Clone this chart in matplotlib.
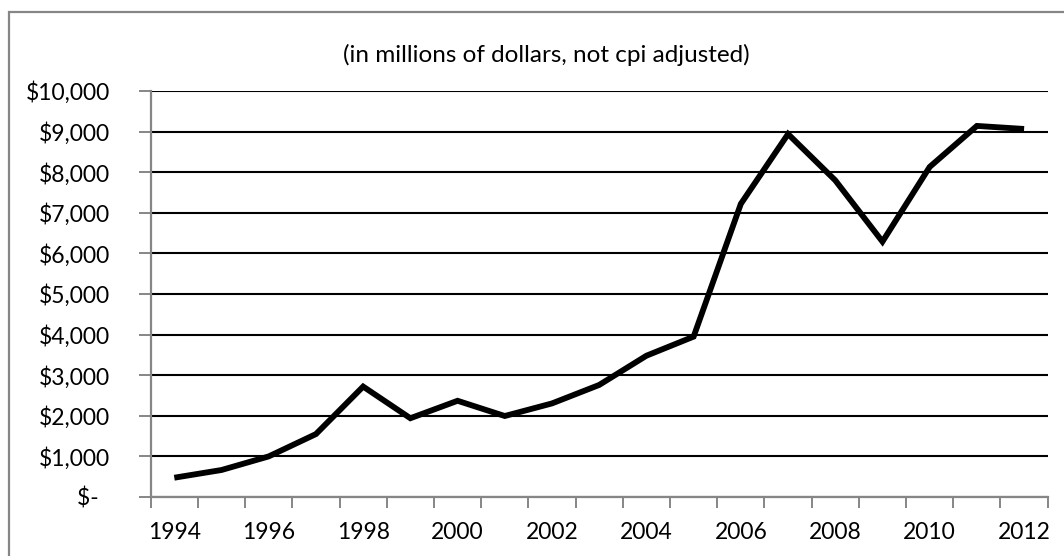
import matplotlib.pyplot as plt
from matplotlib.patches import Rectangle
from matplotlib.ticker import FixedLocator, FuncFormatter

plt.rcParams['font.family'] = ['Lato', 'DejaVu Sans']

# yearly totals, millions of dollars
years = list(range(1994, 2013))
values = [475, 665, 1000, 1550, 2720, 1940, 2370, 1995, 2305, 2760,
          3480, 3950, 7220, 8940, 7800, 6290, 8130, 9140, 9065]
y_ticks = list(range(0, 10001, 1000))

gray = '#868686'

fig = plt.figure(figsize=(10.64, 5.56), dpi=100)
ax = fig.add_axes([150.7 / 1064, 1 - 497 / 556, 897 / 1064, 406 / 556])

# chart area border
fig.patches.append(Rectangle((9 / 1064, -0.1), 1.2, 1 - 12 / 556 + 0.1,
                             transform=fig.transFigure, fill=False,
                             edgecolor=gray, linewidth=1.6))

xs = list(range(len(years)))
ax.plot(xs, values, color='black', linewidth=4.2, solid_joinstyle='miter',
        solid_capstyle='butt', zorder=3)

ax.set_xlim(-0.5, len(years) - 0.5)
ax.set_ylim(0, 10000)

# category axis: tick marks between years, labels every other year
ax.xaxis.set_major_locator(FixedLocator([i - 0.5 for i in range(len(years) + 1)]))
ax.xaxis.set_major_formatter(FuncFormatter(lambda v, p: ''))
ax.xaxis.set_minor_locator(FixedLocator(xs[::2]))
ax.xaxis.set_minor_formatter(FuncFormatter(lambda v, p: str(years[int(round(v))])))
ax.tick_params(axis='x', which='major', length=8, width=1.4, color=gray, direction='out')
ax.tick_params(axis='x', which='minor', length=0, pad=18, labelsize=16.5)


def money(v, p):
    if v == 0:
        return '$-  '
    return '${:,.0f}'.format(v)


ax.set_yticks(y_ticks)
ax.yaxis.set_major_formatter(FuncFormatter(money))
ax.tick_params(axis='y', length=9, width=1.4, color=gray, direction='out',
               pad=20, labelsize=16.5)

ax.set_axisbelow(True)
ax.yaxis.grid(True, color='black', linewidth=1.5)
for side in ['top', 'right']:
    ax.spines[side].set_visible(False)
for side in ['left', 'bottom']:
    ax.spines[side].set_color(gray)
    ax.spines[side].set_linewidth(1.6)

fig.text(546 / 1064, 1 - 55 / 556, '(in millions of dollars, not cpi adjusted)',
         ha='center', va='center', fontsize=17.5)

fig.savefig('out.png', dpi=100)
